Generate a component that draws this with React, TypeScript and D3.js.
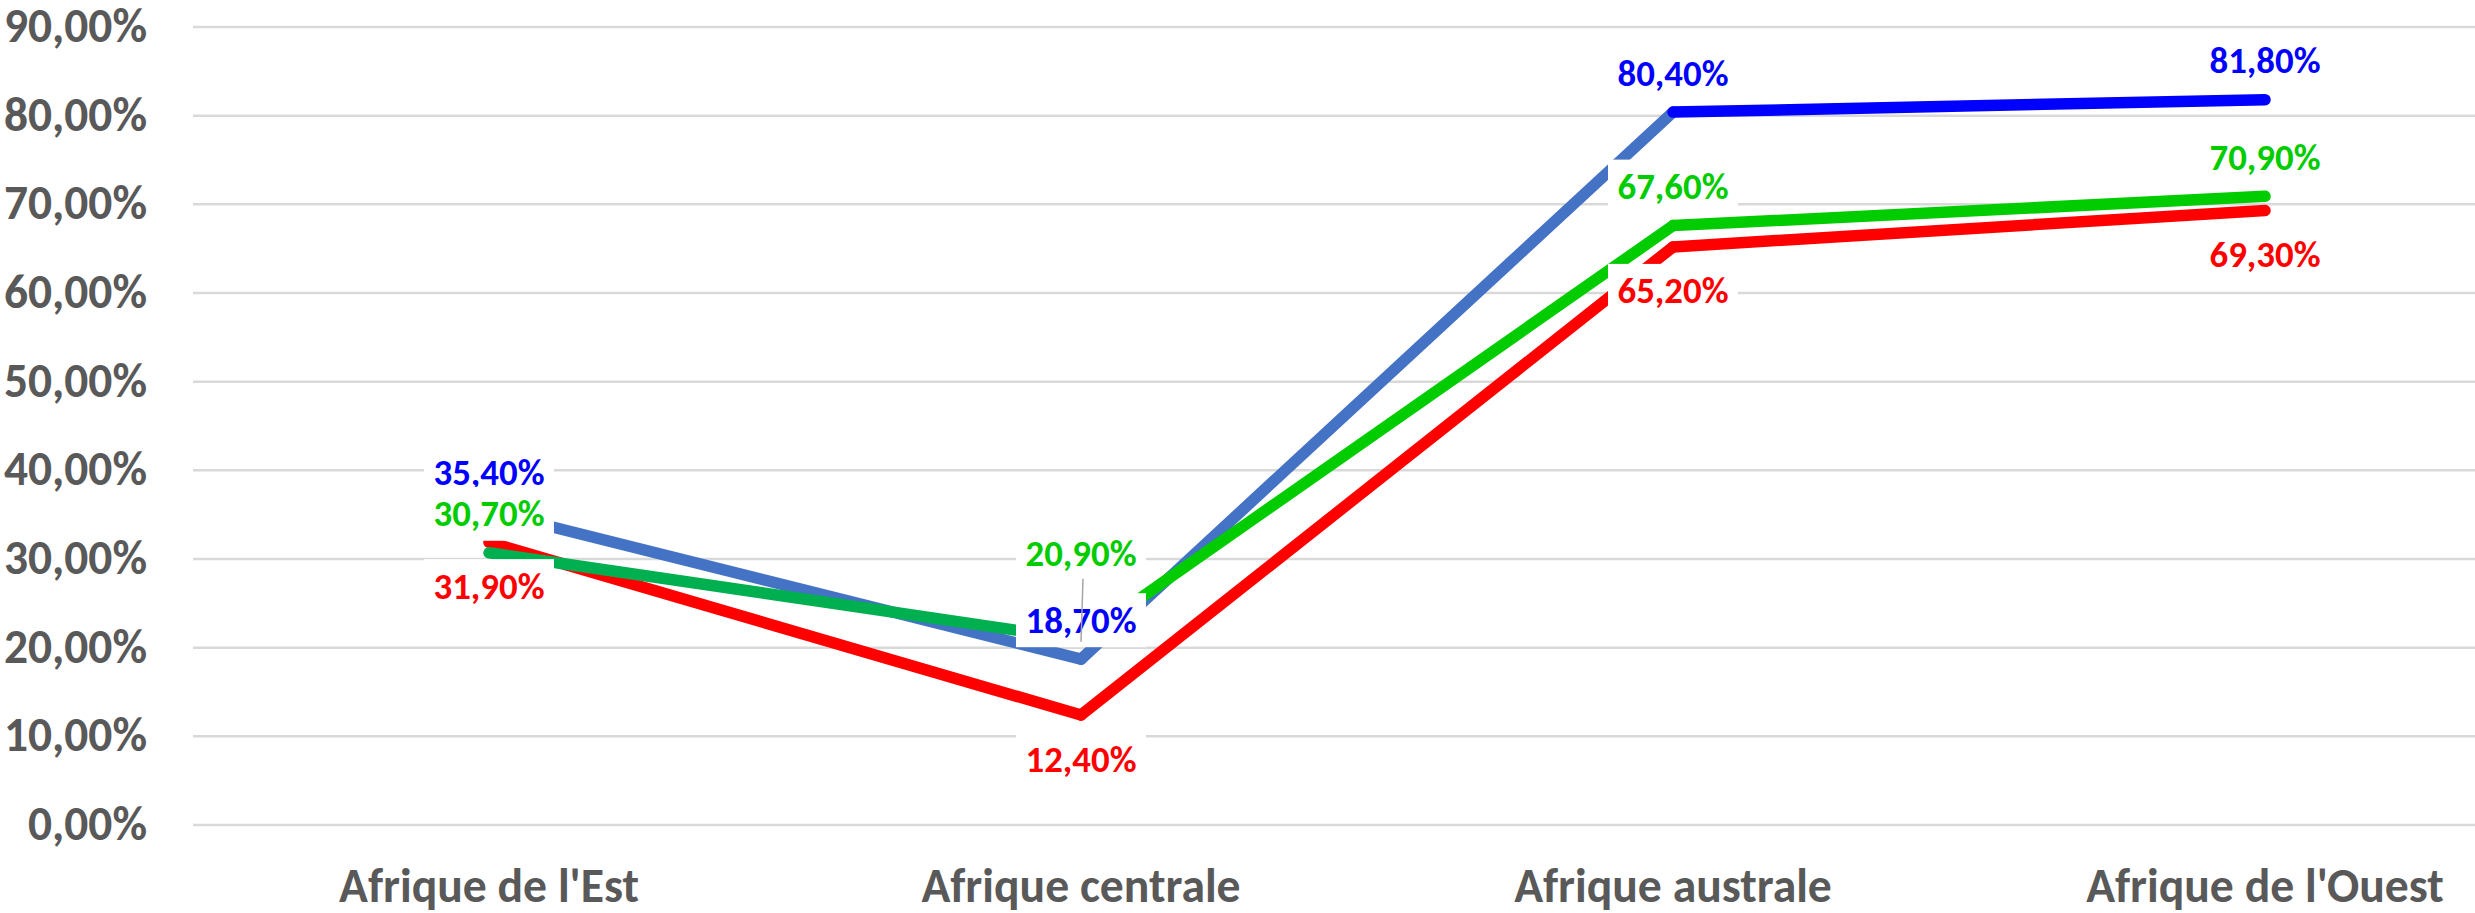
import { useEffect, useRef } from 'react'
import * as d3 from 'd3'

const categories = ["Afrique de l'Est", 'Afrique centrale', 'Afrique australe', "Afrique de l'Ouest"]
const blueValues = [35.4, 18.7, 80.4, 81.8]
const redValues = [31.9, 12.4, 65.2, 69.3]
const greenValues = [30.7, 20.9, 67.6, 70.9]
const yTicks = [0, 10, 20, 30, 40, 50, 60, 70, 80, 90]

const W = 2475
const H = 913
const FONT = 'Carlito, Calibri, Lato, sans-serif'

// drawing order: blue, red, green (green sits on top)
const series = [
  { key: 'blue', values: blueValues, segColors: ['#4472C4', '#4472C4', '#0000FF'], labelColor: '#0000FF', labelPos: ['above', 'above', 'above', 'above'] },
  { key: 'red', values: redValues, segColors: ['#FF0000', '#FF0000', '#FF0000'], labelColor: '#FF0000', labelPos: ['below', 'below', 'below', 'below'] },
  { key: 'green', values: greenValues, segColors: ['#00B050', '#00CC00', '#00CC00'], labelColor: '#00CC00', labelPos: ['above', 'far', 'above', 'above'] },
]

const fr = d3.formatLocale({ decimal: ',', thousands: ' ', grouping: [3], currency: ['', ' €'] })
const fmt = (v: number) => fr.format('.2f')(v) + '%'

export default function App() {
  const svgRef = useRef<SVGSVGElement>(null)

  useEffect(() => {
    if (!svgRef.current) return
    const svg = d3.select(svgRef.current)
    svg.selectAll('*').remove()

    // pick a font size so a sample string gets the width it has in the original (Calibri bold)
    const fit = (sample: string, width: number) => {
      const t = svg.append('text').attr('font-family', FONT).attr('font-weight', 700)
        .attr('font-size', 100).text(sample)
      const w = (t.node() as SVGTextElement).getComputedTextLength()
      t.remove()
      return (100 * width) / w
    }
    const tickSize = fit('90,00%', 143)
    const catSize = fit("Afrique de l'Est", 300)
    const labelSize = fit('35,40%', 111)

    const x = d3.scaleBand<string>().domain(categories).range([193, 2561])
    const cx = (c: string) => (x(c) ?? 0) + x.bandwidth() / 2
    const y = d3.scaleLinear().domain([0, 90]).range([825, 27])

    // gridlines + y tick labels
    svg.append('g').selectAll('line').data(yTicks).join('line')
      .attr('x1', 193).attr('x2', W)
      .attr('y1', d => y(d)).attr('y2', d => y(d))
      .attr('stroke', '#d9d9d9').attr('stroke-width', 2.5)

    svg.append('g').selectAll('text').data(yTicks).join('text')
      .attr('x', 147).attr('y', d => y(d) - 1)
      .attr('text-anchor', 'end').attr('dominant-baseline', 'central')
      .attr('font-family', FONT).attr('font-weight', 700).attr('font-size', tickSize)
      .attr('fill', '#595959')
      .text(d => fmt(d))

    // category labels
    svg.append('g').selectAll('text').data(categories).join('text')
      .attr('x', d => cx(d)).attr('y', 902)
      .attr('text-anchor', 'middle')
      .attr('font-family', FONT).attr('font-weight', 700).attr('font-size', catSize)
      .attr('fill', '#595959')
      .text(d => d)

    // lines, segment by segment (colour changes along a series)
    const line = d3.line<[number, number]>().x(d => d[0]).y(d => d[1])
    series.forEach(s => {
      const pts: [number, number][] = s.values.map((v, i) => [cx(categories[i]), y(v)])
      const g = svg.append('g')
      for (let i = 0; i < pts.length - 1; i++) {
        g.append('path')
          .attr('d', line([pts[i], pts[i + 1]])!)
          .attr('fill', 'none')
          .attr('stroke', s.segColors[i])
          .attr('stroke-width', 11.5)
          .attr('stroke-linecap', 'round')
          .attr('stroke-linejoin', 'round')
      }
    })

    // data labels with white boxes
    const offsets: Record<string, number> = { above: -39, below: 44, far: -86 }
    series.forEach(s => {
      const g = svg.append('g')
      s.values.forEach((v, i) => {
        const px = cx(categories[i])
        const py = y(v)
        const ly = py + offsets[s.labelPos[i]]
        const box = g.append('rect').attr('fill', '#ffffff')
        const t = g.append('text')
          .attr('x', px).attr('y', ly)
          .attr('text-anchor', 'middle').attr('dominant-baseline', 'central')
          .attr('font-family', FONT).attr('font-weight', 700).attr('font-size', labelSize)
          .attr('fill', s.labelColor)
          .text(fmt(v))
        const tw = (t.node() as SVGTextElement).getComputedTextLength()
        const bh = 54
        box.attr('x', px - tw / 2 - 9.5).attr('y', ly - bh / 2)
          .attr('width', tw + 19).attr('height', bh)
        if (s.labelPos[i] === 'far') {
          g.append('line')
            .attr('x1', px + 2).attr('x2', px)
            .attr('y1', ly + 25).attr('y2', py + 2)
            .attr('stroke', '#a6a6a6').attr('stroke-width', 1.5)
        }
      })
    })
  }, [])

  return (
    <svg
      ref={svgRef}
      width={W}
      height={H}
      style={{ position: 'absolute', left: 0, top: 0, background: '#ffffff' }}
    />
  )
}
